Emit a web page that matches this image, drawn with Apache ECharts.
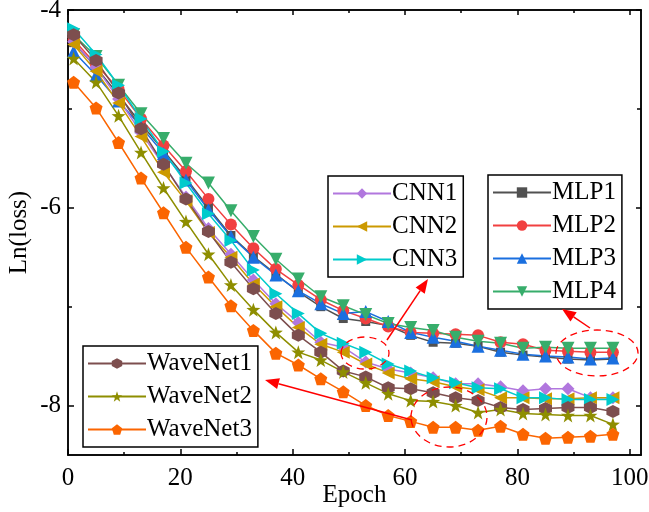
<!DOCTYPE html>
<html>
<head>
<meta charset="utf-8">
<script src="https://cdn.jsdelivr.net/npm/echarts@6/dist/echarts.min.js"></script>
<style>
  html, body { margin: 0; padding: 0; background: #fff; }
  #chart { width: 649px; height: 512px; }
</style>
</head>
<body>
<div id="chart"></div>
<script>
// epochs sampled every 4
var epochs = [1, 5, 9, 13, 17, 21, 25, 29, 33, 37, 41, 45, 49, 53, 57, 61, 65, 69, 73, 77, 81, 85, 89, 93, 97];

var mlp1 = [-4.33, -4.58, -4.86, -5.15, -5.42, -5.70, -6.00, -6.28, -6.49, -6.67, -6.85, -7.00, -7.12, -7.15, -7.19, -7.29, -7.36, -7.37, -7.40, -7.46, -7.49, -7.51, -7.53, -7.54, -7.53];
var mlp2 = [-4.30, -4.55, -4.80, -5.10, -5.37, -5.63, -5.91, -6.17, -6.41, -6.62, -6.78, -6.93, -7.04, -7.12, -7.20, -7.26, -7.27, -7.28, -7.29, -7.36, -7.38, -7.44, -7.45, -7.46, -7.46];
var mlp3 = [-4.42, -4.66, -4.92, -5.18, -5.45, -5.72, -6.02, -6.29, -6.50, -6.68, -6.84, -6.97, -7.07, -7.05, -7.15, -7.26, -7.31, -7.35, -7.40, -7.44, -7.48, -7.50, -7.51, -7.53, -7.52];
var mlp4 = [-4.25, -4.47, -4.76, -5.05, -5.30, -5.55, -5.75, -6.03, -6.29, -6.52, -6.72, -6.90, -6.99, -7.08, -7.17, -7.21, -7.24, -7.31, -7.35, -7.37, -7.42, -7.41, -7.42, -7.42, -7.42];
var cnn1 = [-4.32, -4.58, -4.90, -5.24, -5.57, -5.89, -6.21, -6.47, -6.73, -6.97, -7.16, -7.36, -7.41, -7.56, -7.63, -7.67, -7.72, -7.78, -7.78, -7.81, -7.85, -7.83, -7.83, -7.92, -7.92];
var cnn2 = [-4.35, -4.62, -4.94, -5.28, -5.64, -5.93, -6.25, -6.50, -6.77, -7.00, -7.21, -7.38, -7.46, -7.58, -7.67, -7.73, -7.76, -7.81, -7.84, -7.92, -7.92, -7.93, -7.93, -7.92, -7.92];
var cnn3 = [-4.19, -4.45, -4.76, -5.10, -5.43, -5.75, -6.06, -6.33, -6.63, -6.87, -7.07, -7.27, -7.37, -7.46, -7.58, -7.65, -7.72, -7.77, -7.82, -7.83, -7.92, -7.92, -7.94, -7.94, -7.94];
var wave1 = [-4.25, -4.51, -4.84, -5.20, -5.56, -5.91, -6.24, -6.55, -6.82, -7.07, -7.29, -7.46, -7.65, -7.71, -7.82, -7.83, -7.87, -7.92, -7.95, -8.02, -8.04, -8.03, -8.02, -8.02, -8.06];
var wave2 = [-4.49, -4.73, -5.07, -5.44, -5.80, -6.14, -6.47, -6.78, -7.03, -7.26, -7.46, -7.54, -7.66, -7.77, -7.88, -7.95, -7.96, -8.00, -8.07, -8.04, -8.08, -8.09, -8.10, -8.10, -8.19];
var wave3 = [-4.73, -4.99, -5.34, -5.70, -6.05, -6.40, -6.70, -6.99, -7.24, -7.47, -7.59, -7.73, -7.86, -8.00, -8.10, -8.16, -8.22, -8.22, -8.25, -8.21, -8.29, -8.33, -8.32, -8.31, -8.29];

var xLabels = [0, 20, 40, 60, 80, 100];
var xMinor = [10, 30, 50, 70, 90];
var yLabels = [-8, -6, -4];
var yMinor = [-7, -5];

var FONT = 'Liberation Serif';

var SYM = {
    down: 'path://M0,0 L10,0 L5,8.66 Z',
    left: 'path://M0,5 L8.66,0 L8.66,10 Z',
    right: 'path://M0,0 L8.66,5 L0,10 Z',
    hex: 'path://M5,0 L9.33,2.5 L9.33,7.5 L5,10 L0.67,7.5 L0.67,2.5 Z',
    star: 'path://M5,0 L6.18,3.38 L9.76,3.45 L6.9,5.62 L7.94,9.05 L5,7 L2.06,9.05 L3.1,5.62 L0.24,3.45 L3.82,3.38 Z',
    pent: 'path://M5,0 L9.76,3.45 L7.94,9.05 L2.06,9.05 L0.24,3.45 Z'
};

function makeLine(name, data, color, symbol, size) {
    return {
        name: name,
        type: 'line',
        xAxisIndex: 0,
        yAxisIndex: 0,
        data: epochs.map(function (e, i) { return [e, data[i]]; }),
        symbol: symbol,
        symbolSize: size,
        lineStyle: { color: color, width: 1.5 },
        itemStyle: { color: color },
        emphasis: { disabled: true }
    };
}

// axis helpers, ticks point inwards on all four sides
function xAxisOf(pos, ticks, len, withLabels) {
    return {
        type: 'value', gridIndex: 0, position: pos, min: 0, max: 102,
        axisLine: { show: true, onZero: false, lineStyle: { color: '#000', width: 1.5 } },
        axisTick: { show: true, inside: true, length: len, customValues: ticks, lineStyle: { color: '#000', width: 1.5 } },
        axisLabel: withLabels ? { show: true, customValues: ticks, margin: 11, color: '#000', fontSize: 25, fontFamily: FONT } : { show: false },
        splitLine: { show: false }
    };
}
function yAxisOf(pos, ticks, len, withLabels) {
    return {
        type: 'value', gridIndex: 0, position: pos, min: -8.5, max: -4,
        axisLine: { show: true, onZero: false, lineStyle: { color: '#000', width: 1.5 } },
        axisTick: { show: true, inside: true, length: len, customValues: ticks, lineStyle: { color: '#000', width: 1.5 } },
        axisLabel: withLabels ? { show: true, customValues: ticks, margin: 7, color: '#000', fontSize: 25, fontFamily: FONT } : { show: false },
        splitLine: { show: false }
    };
}

var xBottom = xAxisOf('bottom', xLabels, 6, true);
xBottom.name = 'Epoch';
xBottom.nameLocation = 'middle';
xBottom.nameGap = 28;
xBottom.nameMoveOverlap = false;
xBottom.nameTextStyle = { color: '#000', fontSize: 25, fontFamily: FONT };

var yLeft = yAxisOf('left', yLabels, 6, true);
yLeft.name = 'Ln(loss)';
yLeft.nameLocation = 'middle';
yLeft.nameGap = 36;
yLeft.nameMoveOverlap = false;
yLeft.nameTextStyle = { color: '#000', fontSize: 25, fontFamily: FONT };

function legendOf(names, left, top) {
    return {
        data: names,
        orient: 'vertical',
        left: left,
        top: top,
        itemWidth: 58,
        itemHeight: 13,
        itemGap: 8,
        padding: [5, 6, 5, 4],
        borderColor: '#000',
        borderWidth: 1.5,
        backgroundColor: '#fff',
        selectedMode: false,
        textStyle: { color: '#000', fontSize: 25, fontFamily: FONT, padding: [0, 0, 0, -4] }
    };
}

var chart = echarts.init(document.getElementById('chart'), null, { renderer: 'canvas' });

var option = {
    animation: false,
    backgroundColor: '#fff',
    grid: { left: 68, right: 8, top: 10, bottom: 57, containLabel: false, outerBoundsMode: 'none' },
    xAxis: [
        xBottom,
        xAxisOf('bottom', xMinor, 3, false),
        xAxisOf('top', xLabels, 5, false),
        xAxisOf('top', xMinor, 3, false)
    ],
    yAxis: [
        yLeft,
        yAxisOf('left', yMinor, 4, false),
        yAxisOf('right', yLabels, 5, false),
        yAxisOf('right', yMinor, 4, false)
    ],
    legend: [
        legendOf(['CNN1', 'CNN2', 'CNN3'], 328, 176),
        legendOf(['MLP1', 'MLP2', 'MLP3', 'MLP4'], 488, 175),
        legendOf(['WaveNet1', 'WaveNet2', 'WaveNet3'], 83, 346)
    ],
    series: [
        makeLine('MLP1', mlp1, '#515151', 'rect', 9),
        makeLine('MLP2', mlp2, '#F14040', 'circle', 12),
        makeLine('MLP3', mlp3, '#1A6FDF', 'triangle', 13),
        makeLine('MLP4', mlp4, '#37AD6B', SYM.down, 13),
        makeLine('CNN1', cnn1, '#B177DE', 'diamond', 13),
        makeLine('CNN2', cnn2, '#CC9900', SYM.left, 13),
        makeLine('CNN3', cnn3, '#00CBCC', SYM.right, 13),
        makeLine('WaveNet1', wave1, '#7D4E4E', SYM.hex, 13),
        makeLine('WaveNet2', wave2, '#8E8E00', SYM.star, 14),
        makeLine('WaveNet3', wave3, '#FB6501', SYM.pent, 13)
    ]
};
chart.setOption(option);

// red dashed ellipses and arrows (annotation, in pixels)
function arrow(x1, y1, x2, y2) {
    var dx = x2 - x1, dy = y2 - y1;
    var len = Math.sqrt(dx * dx + dy * dy);
    var ux = dx / len, uy = dy / len;
    var hl = 14, hw = 5.5;
    var bx = x2 - ux * hl, by = y2 - uy * hl;
    return [
        { type: 'line', shape: { x1: x1, y1: y1, x2: bx, y2: by }, style: { stroke: '#FF0000', lineWidth: 1.5 }, z: 100 },
        { type: 'polygon', shape: { points: [[x2, y2], [bx - uy * hw, by + ux * hw], [bx + uy * hw, by - ux * hw]] }, style: { fill: '#FF0000' }, z: 100 }
    ];
}
function ring(cx, cy, rx, ry) {
    return { type: 'ellipse', shape: { cx: cx, cy: cy, rx: rx, ry: ry }, style: { fill: null, stroke: '#FF0000', lineWidth: 1.3, lineDash: [7, 5] }, z: 100 };
}

var marks = [
    ring(365, 353, 24, 16),
    ring(597, 353, 41, 23),
    ring(449, 417, 38, 30)
].concat(arrow(387, 340, 428, 279))
 .concat(arrow(590, 328, 562, 309))
 .concat(arrow(412, 420, 265, 380));

chart.setOption({ graphic: { elements: marks } });
</script>
</body>
</html>
